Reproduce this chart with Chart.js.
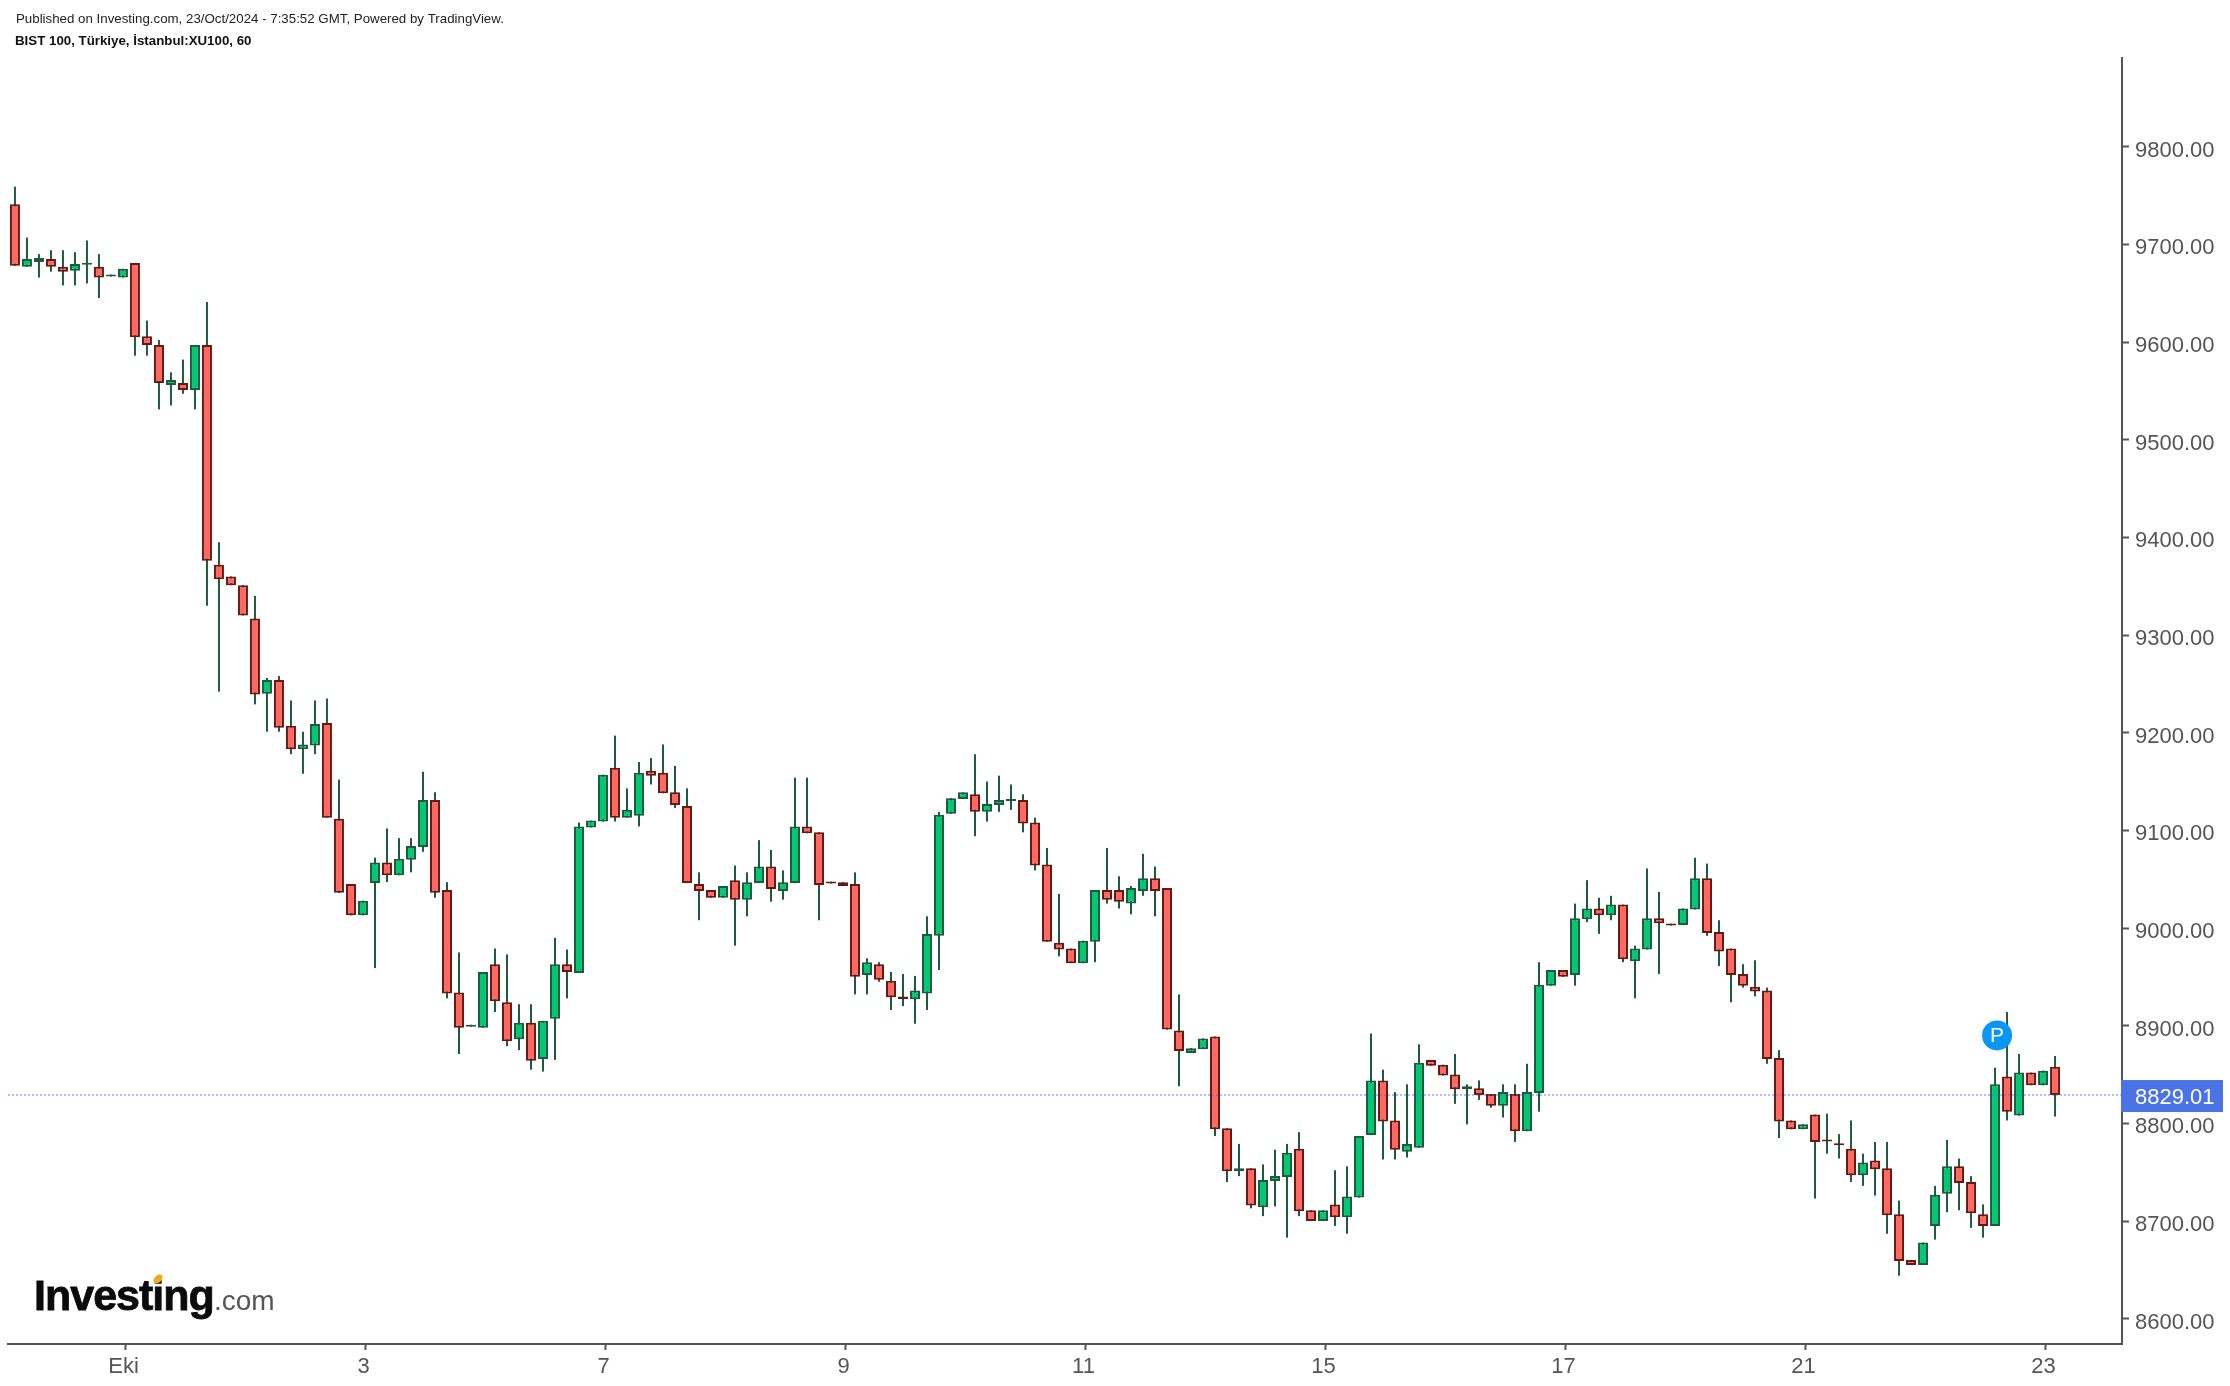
<!DOCTYPE html>
<html>
<head>
<meta charset="utf-8">
<title>BIST 100</title>
<script src="https://cdn.jsdelivr.net/npm/chart.js@4"></script>
<style>
html, body { margin: 0; padding: 0; background: #fff; }
canvas { display: block; }
</style>
</head>
<body>
<canvas id="chart" width="2230" height="1386"></canvas>
<script>
const opens = [
  9741,9677,9682,9685,9677,9673,9679,9677,9667,9666,
  9681,9606,9597,9556,9558,9551,9597,9372,9360,9351,
  9317,9240,9254,9207,9183,9187,9210,9112,9045,9013,
  9046,9067,9054,9070,9083,9131,9039,8934,8899,8898,
  8963,8924,8886,8903,8866,8907,8963,8954,9103,9109,
  9164,9113,9115,9161,9159,9139,9125,9045,9039,9031,
  9049,9029,9046,9063,9038,9046,9104,9098,9046.5,9047,
  9045,8952,8963,8946,8930,8927,8933,8992,9117,9132,
  9137,9119,9126,9130,9131,9108,9065,8985,8979,8964,
  8986,9039,9039,9025,9038,9051,9041,8895,8872,8876,
  8889,8795,8751,8754,8714,8741,8745,8774,8711,8700,
  8717,8704,8724,8788,8844,8803,8771,8775,8865,8860,
  8850,8835,8836,8830,8818,8830,8792,8831,8941,8957,
  8952,9009,9020,9013,9024,8966,8978,9010,9003.5,9003,
  9019,9051,8996,8979,8953,8940,8936,8867,8803,8794,
  8809,8782.5,8778.5,8774,8747,8762,8754,8707,8660,8655,
  8695,8728,8756,8740,8707,8695,8848,8808,8852,8839,
  8858
];
const highs = [
  9759,9707,9690,9694,9694,9692,9704,9690,9667,9675,
  9681,9622,9602,9569,9582,9597,9641,9395,9360,9351,
  9340,9256,9258,9233,9201,9233,9235,9152,9045,9028,
  9072,9102,9092,9092,9160,9139,9047,8975,8899,8955,
  8979,8973,8922,8922,8905,8990,8978,9108,9110,9157,
  9197,9143,9170,9174,9188,9166,9143,9057,9039,9043,
  9064,9057,9090,9080,9059,9154,9154,9098,9046.5,9047,
  9057,8969,8965,8955,8953,8951,9012,9119,9133,9139,
  9178,9150,9156,9147,9137,9113,9082,9035,8979,8987,
  9039,9082,9053,9043,9076,9063,9041,8932,8877,8887,
  8889,8795,8779,8754,8758,8773,8779,8791,8711,8711,
  8752,8756,8787,8892,8855,8832,8840,8881,8865,8860,
  8871,8840,8844,8830,8840,8840,8861,8965,8957,8957,
  9025,9049,9031,9033,9024,8982,9061,9037,9003.5,9020,
  9072,9066,9008,8979,8963,8967,8939,8875,8803,8799,
  8809,8810,8789,8803,8769,8781,8781,8721,8660,8678,
  8736,8783,8764,8746,8717,8857,8914,8871,8852,8854,
  8869
];
const lows = [
  9678,9677,9666,9672,9658,9658,9660,9645,9667,9666,
  9586,9586,9531,9535,9547,9531,9330,9242,9351,9320,
  9229,9201,9201,9178,9158,9178,9113,9036,9013,9013,
  8959,9047,9054,9057,9078,9031,8928,8871,8899,8898,
  8914,8879,8875,8855,8853,8865,8928,8954,9103,9109,
  9109,9113,9104,9147,9138,9123,9046,9008,9031,9031,
  8982,9012,9046,9027,9029,9046,9097,9008,9045.5,9043,
  8932,8932,8945,8916,8920,8902,8916,8957,9117,9132,
  9094,9109,9119,9121,9098,9059,8986,8971,8964,8964,
  8965,9025,9020,9014,9033,9012,8896,8838,8872,8876,
  8787,8740,8746,8713,8705,8715,8683,8705,8700,8700,
  8695,8687,8724,8788,8763,8763,8765,8775,8859,8849,
  8820,8799,8824,8816,8806,8781,8792,8812,8941,8950,
  8941,9006,8994,9008,8965,8928,8978,8953,9002.5,9003,
  9019,8992,8961,8924,8939,8930,8861,8785,8794,8794,
  8723,8769,8764,8740,8736,8726,8687,8644,8655,8655,
  8681,8709,8711,8693,8683,8695,8803,8808,8839,8839,
  8807
];
const closes = [
  9678,9685,9686,9677,9672,9680,9679,9666,9667,9675,
  9605,9597,9558,9561,9551,9597,9376,9357,9351,9320,
  9239,9254,9205,9183,9188,9209,9113,9036,9013,9028,
  9067,9054,9071,9084,9131,9036,8933,8898,8899,8955,
  8925,8884,8903,8864,8905,8963,8955,9104,9110,9157,
  9113,9121,9159,9156,9138,9126,9046,9038,9031,9043,
  9029,9047,9063,9040,9047,9104,9097,9044,9045.5,9043,
  8950,8965,8947,8929,8927,8936,8994,9116,9133,9139,
  9119,9127,9131,9130,9107,9064,8986,8978,8964,8987,
  9039,9029,9027,9041,9051,9038,8896,8874,8877,8887,
  8794,8751,8754,8716,8742,8746,8770,8710,8700,8711,
  8704,8725,8787,8844,8802,8773,8779,8862,8859,8849,
  8835,8838,8829,8818,8832,8792,8832,8942,8957,8950,
  9010,9020,9013,9024,8968,8979,9010,9005,9002.5,9020,
  9051,8995,8976,8952,8941,8935,8866,8802,8794,8799,
  8781,8781.5,8777.5,8747,8760,8753,8706,8659,8655,8678,
  8727,8756,8739,8708,8695,8840,8812,8852,8839,8854,
  8829.01
];
const tickIndex = [9.17, 29.17, 49.17, 69.17, 89.17, 109.17, 129.17, 149.17, 169.17];
const tickNames = ['Eki', '3', '7', '9', '11', '15', '17', '21', '23'];
const lastPrice = 8829.01;
const markerIndex = 165.17;
const markerValue = 8890;

const upFill = '#00c874';
const upEdge = '#1f5a3c';
const downFill = '#ff6961';
const downEdge = '#641a14';
const axisColor = '#555555';
const priceBlue = '#4c73e6';
const fontName = '"Liberation Sans", Arial, sans-serif';

let wicks = [];
let bodies = [];
let fills = [];
let edges = [];
for (let i = 0; i < opens.length; i++) {
    wicks.push({x: i, y: [lows[i], highs[i]]});
    bodies.push({x: i, y: [opens[i], closes[i]]});
    let up = closes[i] >= opens[i];
    fills.push(up ? upFill : downFill);
    edges.push(up ? upEdge : downEdge);
}

// everything the library has no element for: header, logo, price line, P badge
// tick labels are written here too, the library cannot nudge them off the tick
const extras = {
    id: 'extras',
    afterDatasetsDraw(chart) {
        const ctx = chart.ctx;
        const xs = chart.scales.x;
        const ys = chart.scales.y;
        const py = ys.getPixelForValue(lastPrice);

        ctx.save();
        ctx.strokeStyle = 'rgba(76,115,230,0.45)';
        ctx.lineWidth = 2;
        ctx.setLineDash([2, 2]);
        ctx.beginPath();
        ctx.moveTo(xs.left, py);
        ctx.lineTo(xs.right + 5, py);
        ctx.stroke();
        ctx.restore();

        ctx.save();
        ctx.fillStyle = '#0a96f5';
        ctx.beginPath();
        ctx.arc(xs.getPixelForValue(markerIndex), ys.getPixelForValue(markerValue), 15, 0, Math.PI * 2);
        ctx.fill();
        ctx.fillStyle = '#ffffff';
        ctx.font = '21px ' + fontName;
        ctx.textAlign = 'center';
        ctx.textBaseline = 'middle';
        ctx.fillText('P', xs.getPixelForValue(markerIndex), ys.getPixelForValue(markerValue) + 1);
        ctx.restore();
    },
    afterDraw(chart) {
        const ctx = chart.ctx;
        const xs = chart.scales.x;
        const ys = chart.scales.y;
        const py = ys.getPixelForValue(lastPrice);
        ctx.save();

        ctx.textBaseline = 'alphabetic';
        ctx.font = '22px ' + fontName;
        ctx.fillStyle = axisColor;
        ctx.textAlign = 'left';
        ys.ticks.forEach(t => ctx.fillText(t.label, 2135, ys.getPixelForValue(t.value) + 10));
        ctx.textAlign = 'center';
        xs.ticks.forEach(t => ctx.fillText(t.label, xs.getPixelForValue(t.value) - 1.5, 1373));
        ctx.textAlign = 'left';

        ctx.fillStyle = priceBlue;
        ctx.fillRect(2121, py - 15, 102, 32);
        ctx.fillStyle = '#ffffff';
        ctx.fillText(lastPrice.toFixed(2), 2135, py + 9);

        ctx.textBaseline = 'middle';
        ctx.fillStyle = '#222222';
        ctx.font = '13.3px ' + fontName;
        ctx.fillText('Published on Investing.com, 23/Oct/2024 - 7:35:52 GMT, Powered by TradingView.', 16, 19);
        ctx.fillStyle = '#111111';
        ctx.font = 'bold 13.3px ' + fontName;
        ctx.fillText('BIST 100, Türkiye, İstanbul:XU100, 60', 15, 41);

        ctx.textBaseline = 'alphabetic';
        ctx.fillStyle = '#0b0b0b';
        ctx.strokeStyle = '#0b0b0b';
        ctx.lineWidth = 0.8;
        ctx.font = 'bold 43px ' + fontName;
        ctx.letterSpacing = '-1px';
        ctx.fillText('Investing', 34, 1310);
        ctx.strokeText('Investing', 34, 1310);
        ctx.letterSpacing = '0px';
        ctx.fillStyle = '#555555';
        ctx.font = '28px ' + fontName;
        ctx.fillText('.com', 214, 1310);
        ctx.fillStyle = '#f5a623';
        ctx.beginPath();
        ctx.ellipse(158, 1279, 5.5, 3.5, -Math.PI / 4, 0, Math.PI * 2);
        ctx.fill();
        ctx.restore();
    }
};

new Chart(document.getElementById('chart').getContext('2d'), {
    type: 'bar',
    data: {
        datasets: [
            {
                label: 'wick',
                data: wicks,
                order: 2,
                grouped: false,
                barThickness: 2,
                minBarLength: 2,
                backgroundColor: upEdge,
                borderWidth: 0,
                inflateAmount: 0
            },
            {
                label: 'body',
                data: bodies,
                order: 1,
                grouped: false,
                barThickness: 10,
                minBarLength: 2,
                backgroundColor: fills,
                borderColor: edges,
                borderWidth: 2,
                borderSkipped: false,
                inflateAmount: 0
            }
        ]
    },
    options: {
        responsive: false,
        animation: false,
        devicePixelRatio: 1,
        layout: { padding: { top: 58, left: 8, right: 0, bottom: 0 } },
        plugins: {
            legend: { display: false },
            tooltip: { enabled: false }
        },
        scales: {
            x: {
                type: 'linear',
                offset: false,
                min: -0.58,
                max: 175.58,
                afterBuildTicks(scale) {
                    scale.ticks = tickIndex.map(v => ({value: v}));
                },
                afterFit(scale) { scale.height = 42; },
                border: { color: axisColor, width: 2 },
                grid: { offset: false, drawOnChartArea: false, drawTicks: true, tickLength: 6, tickColor: axisColor, tickWidth: 2 },
                ticks: {
                    display: false,
                    autoSkip: false,
                    callback: value => tickNames[tickIndex.indexOf(value)]
                }
            },
            y: {
                position: 'right',
                min: 8574.1,
                max: 9890.8,
                afterFit(scale) { scale.width = 108; },
                border: { color: axisColor, width: 2 },
                grid: { drawOnChartArea: false, drawTicks: true, tickLength: 7, tickColor: axisColor, tickWidth: 2 },
                ticks: {
                    display: false,
                    stepSize: 100,
                    includeBounds: false,
                    callback: value => value.toFixed(2)
                }
            }
        }
    },
    plugins: [extras]
});
</script>
</body>
</html>
